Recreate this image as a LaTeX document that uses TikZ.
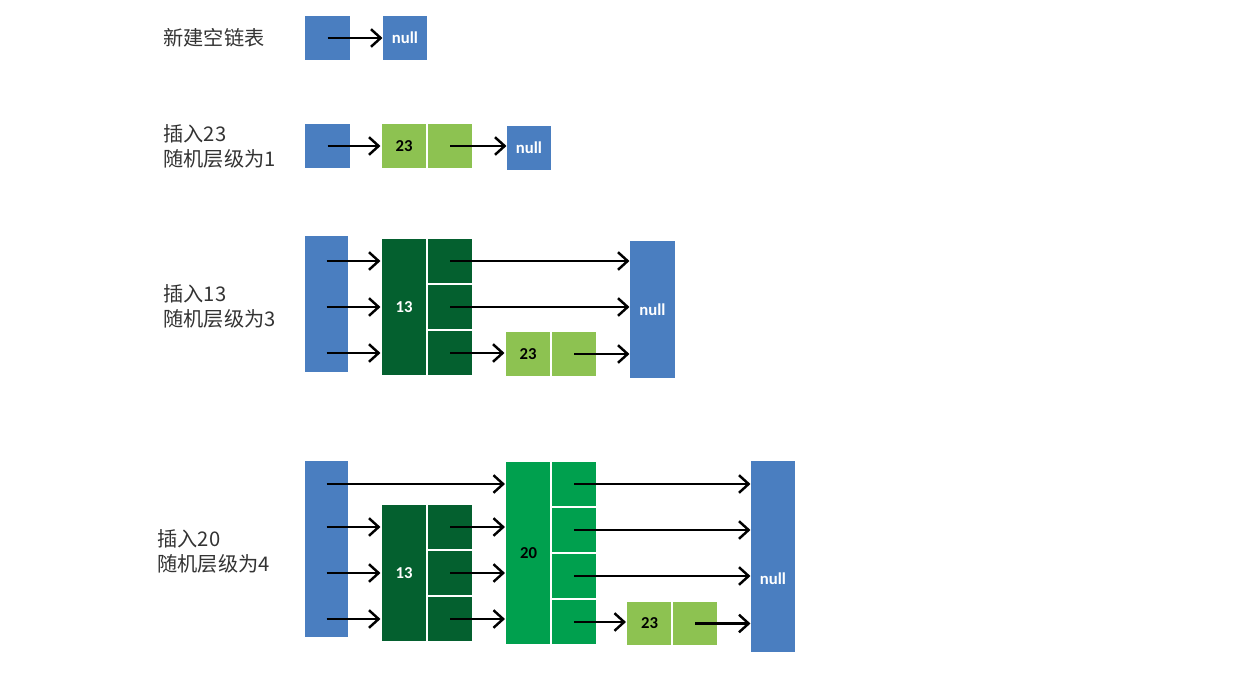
\documentclass[tikz,border=0pt]{standalone}
\usepackage{fontspec}
\setsansfont{Carlito}
\newfontfamily\cjk{Noto Sans CJK SC}
\usetikzlibrary{arrows.meta}
\definecolor{headblue}{HTML}{4A7EC0}
\definecolor{lightgreen}{HTML}{8DC251}
\definecolor{darkgreen}{HTML}{04602F}
\definecolor{midgreen}{HTML}{00A04E}
\definecolor{labelgray}{HTML}{333333}

\begin{document}
\begin{tikzpicture}[x=0.02cm ,y=-0.02cm ,
    semithick ,
    head/.style ={rectangle ,fill=headblue ,minimum width =0.9cm ,inner sep=0pt},
    cell/.style ={rectangle ,draw=white ,line width=0.6pt ,minimum width =0.92cm ,
    minimum height =0.92cm ,inner sep=0pt ,font=\sffamily\bfseries\fontsize{9.5}{10}\selectfont},
    nil/.style ={head ,text=white ,font=\sffamily\bfseries\fontsize{9.5}{10}\selectfont},
    step1/.style ={cell ,fill=lightgreen ,minimum height =0.89cm},
    step3/.style ={cell ,fill=darkgreen ,text=white},
    step4/.style ={cell ,fill=midgreen},
    caption/.style ={anchor=west ,align=left ,inner sep=0pt ,text=labelgray ,
    font=\cjk\fontsize{11.5}{14.2}\selectfont},
    link/.style ={-{Straight Barb[length=5.5pt,width=10pt]} ,line width=1.4pt}
    ]
\useasboundingbox (0,0) rectangle (1237,687);

% new empty list
\node[caption] (t1) at (163,38) {新建空链表};
\node[head ,minimum height=0.88cm] (h1) at (327.5,38) {};
\node[nil ,minimum width=0.88cm ,minimum height=0.88cm] (n1) at (405,38) {null};
\draw[link] (h1.center) -- (n1);

% insert 23, level 1
\node[caption] (t2) at (163,146) {插入23\\随机层级为1};
\node[head ,minimum height=0.88cm] (h2) at (327.5,146) {};
\node[step1] (a2) at (404,146) {23};
\node[step1] (a2r) at (450,146) {};
\node[nil ,minimum width=0.88cm ,minimum height=0.88cm] (n2) at (529,148) {null};
\draw[link] (h2.center) -- (a2);
\draw[link] (a2r.center) -- (n2.west |- a2r);

% insert 13, level 3
\node[caption] (t3) at (163,306) {插入13\\随机层级为3};
\node[head ,minimum width=0.86cm ,minimum height=2.72cm] (h3) at (326.5,304) {};
\node[step3 ,minimum height=2.76cm] (b3) at (404,307) {13};
\node[step3] (b3a) at (450,261) {};
\node[step3] (b3b) at (450,307) {};
\node[step3] (b3c) at (450,353) {};
\node[step1] (c3) at (528,354) {23};
\node[step1] (c3r) at (574,354) {};
\node[nil ,minimum height=2.74cm] (n3) at (652.5,309.5) {null};
\foreach \r in {b3a,b3b,b3c}
  \draw[link] (h3 |- \r) -- (b3.west |- \r);
\draw[link] (b3a.center) -- (n3.west |- b3a);
\draw[link] (b3b.center) -- (n3.west |- b3b);
\draw[link] (b3c.center) -- (c3.west |- b3c);
\draw[link] (c3r.center) -- (n3.west |- c3r);

% insert 20, level 4
\node[caption] (t4) at (157,551) {插入20\\随机层级为4};
\node[head ,minimum width=0.86cm ,minimum height=3.52cm] (h4) at (326.5,549) {};
\node[step3 ,minimum height=2.76cm] (b4) at (404,573) {13};
\node[step3] (b4a) at (450,527) {};
\node[step3] (b4b) at (450,573) {};
\node[step3] (b4c) at (450,619) {};
\node[step4 ,minimum height=3.68cm] (d4) at (528.5,553) {20};
\node[step4] (d4a) at (574,484) {};
\node[step4] (d4b) at (574,530) {};
\node[step4] (d4c) at (574,576) {};
\node[step4] (d4d) at (574,622) {};
\node[step1] (c4) at (649.5,623.5) {23};
\node[step1] (c4r) at (695,623.5) {};
\node[nil ,minimum width=0.88cm ,minimum height=3.82cm] (n4) at (773,556.5) {\raisebox{-0.55cm}[0pt][0pt]{null}};
\draw[link] (h4 |- d4a) -- (d4.west |- d4a);
\foreach \r in {b4a,b4b,b4c}{
  \draw[link] (h4 |- \r) -- (b4.west |- \r);
  \draw[link] (\r.center) -- (d4.west |- \r);
}
\foreach \r in {d4a,d4b,d4c}
  \draw[link] (\r.center) -- (n4.west |- \r);
\draw[link] (d4d.center) -- (c4.west |- d4d);
\draw[link] (c4r.center) -- (n4.west |- c4r);
\end{tikzpicture}
\end{document}
